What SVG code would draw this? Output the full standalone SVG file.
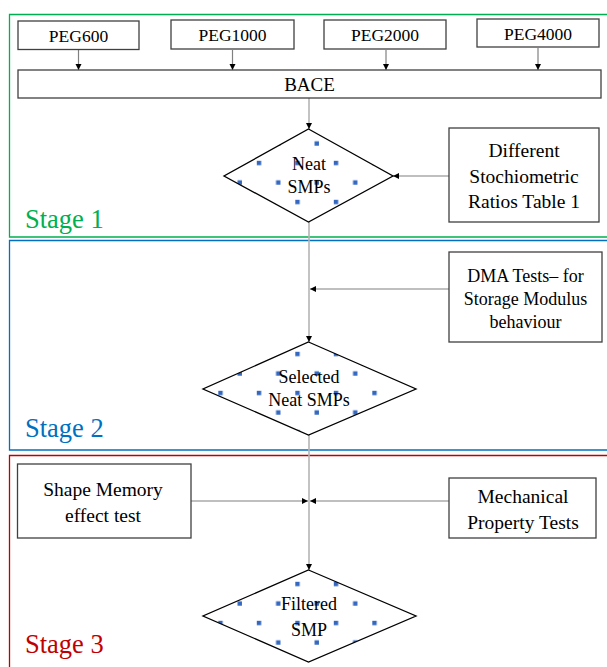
<svg xmlns="http://www.w3.org/2000/svg" width="607" height="667" viewBox="0 0 607 667">
<style>
.box{fill:#fff;stroke:#404040;stroke-width:1.3}
.t{font-family:"Liberation Serif","Times New Roman",serif;fill:#000;text-anchor:middle}
.dia{stroke:#000;stroke-width:1.3}
.con{fill:none;stroke:#808080;stroke-width:1.2}
.vert{fill:none;stroke:#b4b4b4;stroke-width:1.6}
.stage{font-family:"Liberation Serif","Times New Roman",serif;font-size:26.5px}
.dot{fill:#3468c0}
</style>
<defs>
<marker id="ah" markerUnits="userSpaceOnUse" markerWidth="8" markerHeight="8" refX="7" refY="4" orient="auto">
<path d="M1,1 L7,4 L1,7 Z" fill="#000"/>
</marker>
<pattern id="pN" patternUnits="userSpaceOnUse" x="256.8" y="160.8" width="38.5" height="39">
<rect class="dot" x="0" y="0" width="4.4" height="4.4"/>
<rect class="dot" x="19.25" y="19.5" width="4.4" height="4.4"/>
</pattern>
<pattern id="pS" patternUnits="userSpaceOnUse" x="256.8" y="351.8" width="38.5" height="39">
<rect class="dot" x="0" y="0" width="4.4" height="4.4"/>
<rect class="dot" x="19.25" y="19.5" width="4.4" height="4.4"/>
</pattern>
<pattern id="pF" patternUnits="userSpaceOnUse" x="256.8" y="581.8" width="38.5" height="39">
<rect class="dot" x="0" y="0" width="4.4" height="4.4"/>
<rect class="dot" x="19.25" y="19.5" width="4.4" height="4.4"/>
</pattern>
</defs>
<rect width="607" height="667" fill="#fff"/>

<g id="stage1-frame">
<path d="M612,14.5 H9.5 V237 H612" fill="none" stroke="#00b050" stroke-width="1.3"/>
<text class="stage" x="25" y="228" fill="#00b050">Stage 1</text>
</g>
<g id="stage2-frame">
<path d="M612,240.5 H9.5 V450 H612" fill="none" stroke="#0070c0" stroke-width="1.3"/>
<text class="stage" x="25" y="437" fill="#0070c0">Stage 2</text>
</g>
<g id="stage3-frame">
<path d="M612,455.5 H9.5 V670" fill="none" stroke="#c00000" stroke-width="1.3"/>
<text class="stage" x="25" y="653" fill="#c00000">Stage 3</text>
</g>

<g id="connectors">
<line class="con" x1="78.5" y1="50" x2="78.5" y2="70" marker-end="url(#ah)"/>
<line class="con" x1="232.5" y1="50" x2="232.5" y2="70" marker-end="url(#ah)"/>
<line class="con" x1="386" y1="50" x2="386" y2="70" marker-end="url(#ah)"/>
<line class="con" x1="538" y1="48" x2="538" y2="70" marker-end="url(#ah)"/>
<line class="vert" x1="309" y1="98" x2="309" y2="129" marker-end="url(#ah)"/>
<line class="con" x1="449" y1="176" x2="393" y2="176" marker-end="url(#ah)"/>
<line class="vert" x1="309" y1="222" x2="309" y2="342" marker-end="url(#ah)"/>
<line class="con" x1="449" y1="289" x2="310" y2="289" marker-end="url(#ah)"/>
<line class="vert" x1="309" y1="435" x2="309" y2="570" marker-end="url(#ah)"/>
<line class="con" x1="191" y1="501" x2="308" y2="501" marker-end="url(#ah)"/>
<line class="con" x1="449" y1="501" x2="310" y2="501" marker-end="url(#ah)"/>
</g>

<g id="peg600"><rect class="box" x="18" y="21" width="121" height="28.5"/><text class="t" x="78.5" y="41.5" font-size="17.5">PEG600</text></g>
<g id="peg1000"><rect class="box" x="171" y="20" width="123" height="29"/><text class="t" x="232.5" y="40.5" font-size="17.5">PEG1000</text></g>
<g id="peg2000"><rect class="box" x="324" y="20" width="122" height="29"/><text class="t" x="385" y="40.5" font-size="17.5">PEG2000</text></g>
<g id="peg4000"><rect class="box" x="477" y="19" width="122" height="28"/><text class="t" x="538" y="39.5" font-size="17.5">PEG4000</text></g>
<g id="bace"><rect class="box" x="18" y="70" width="583" height="28"/><text class="t" x="309.5" y="91" font-size="19">BACE</text></g>

<g id="neat-smps">
<polygon points="308.5,129 393,176 308.5,222 224,176" fill="#fff"/>
<polygon class="dia" points="308.5,129 393,176 308.5,222 224,176" fill="url(#pN)"/>
<text class="t" x="309" y="170" font-size="18">Neat</text>
<text class="t" x="309" y="193" font-size="18">SMPs</text>
</g>
<g id="ratios">
<rect class="box" x="449" y="128" width="150" height="94"/>
<text class="t" x="524" y="157" font-size="19.5">Different</text>
<text class="t" x="524" y="183" font-size="19.5">Stochiometric</text>
<text class="t" x="524" y="208" font-size="19.5">Ratios Table 1</text>
</g>

<g id="dma">
<rect class="box" x="449" y="252" width="153" height="90"/>
<text class="t" x="525.5" y="282" font-size="18">DMA Tests– for</text>
<text class="t" x="525.5" y="305" font-size="18">Storage Modulus</text>
<text class="t" x="525.5" y="328" font-size="18">behaviour</text>
</g>
<g id="selected">
<polygon points="308.5,342 416,389 308.5,435 203,389" fill="#fff"/>
<polygon class="dia" points="308.5,342 416,389 308.5,435 203,389" fill="url(#pS)"/>
<text class="t" x="309" y="383" font-size="18">Selected</text>
<text class="t" x="309" y="406" font-size="18">Neat SMPs</text>
</g>

<g id="shape-memory">
<rect class="box" x="17.5" y="464" width="173.5" height="74"/>
<text class="t" x="103" y="496" font-size="19.5">Shape Memory</text>
<text class="t" x="103" y="522" font-size="19.5">effect test</text>
</g>
<g id="mechanical">
<rect class="box" x="449" y="478" width="147" height="60"/>
<text class="t" x="523" y="503" font-size="19.5">Mechanical</text>
<text class="t" x="523" y="529" font-size="19.5">Property Tests</text>
</g>
<g id="filtered">
<polygon points="308.5,570 416,616 308.5,662 203,616" fill="#fff"/>
<polygon class="dia" points="308.5,570 416,616 308.5,662 203,616" fill="url(#pF)"/>
<text class="t" x="309" y="610" font-size="18">Filtered</text>
<text class="t" x="309" y="636" font-size="18">SMP</text>
</g>
</svg>
